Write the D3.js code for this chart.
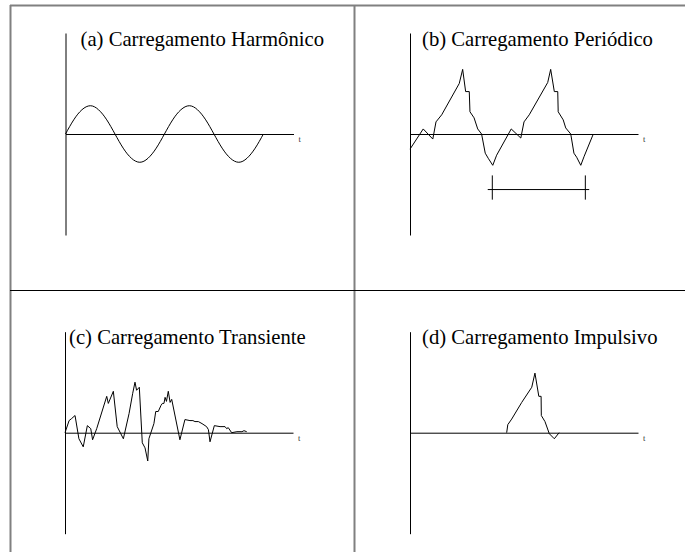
<!DOCTYPE html>
<html>
<head>
<meta charset="utf-8">
<script src="https://cdn.jsdelivr.net/npm/d3@7"></script>
<style>
    body { margin: 0; background: #fff; }
    svg { display: block; }
    .title { font-family: 'Liberation Serif', 'Times New Roman', serif; font-size: 20.7px; fill: #000; }
    .tlabel { font-family: 'Liberation Serif', 'Times New Roman', serif; font-size: 8.5px; fill: #333; }
    .curve { fill: none; stroke: #000; stroke-width: 1; }
</style>
</head>
<body>
<svg width="685" height="552"></svg>
<script>
// titles
const titles = [
    '(a) Carregamento Harmônico',
    '(b) Carregamento Periódico',
    '(c) Carregamento Transiente',
    '(d) Carregamento Impulsivo',
];

// (a) harmonic load
const harmonicT = [0, 0.36, 0.72, 1.09, 1.45, 1.81, 2.17, 2.53, 2.89, 3.26, 3.62, 3.98, 4.34,
    4.70, 5.06, 5.43, 5.79, 6.15, 6.51, 6.87, 7.23, 7.60, 7.96, 8.32, 8.68];
const harmonicY = [0, 0.14, 0.24, 0.28, 0.24, 0.14, 0, -0.14, -0.24, -0.28, -0.24, -0.14, 0,
    0.14, 0.24, 0.28, 0.24, 0.14, 0, -0.14, -0.24, -0.28, -0.24, -0.14, 0];

// (b) periodic load
const periodicT = [0, 0.58, 1.0, 1.14, 1.39, 2.16, 2.31, 2.44, 2.60, 2.63, 2.81, 2.97, 3.14, 3.30,
    3.43, 3.63, 3.80, 4.44, 4.86, 5.0, 5.23, 6.04, 6.17, 6.33, 6.48, 6.50, 6.72, 6.83, 7.05,
    7.19, 7.31, 7.49, 7.64, 8.04];
const periodicY = [-0.15, 0.05, -0.05, 0.12, 0.19, 0.50, 0.64, 0.42, 0.42, 0.22, 0.16, 0.05, 0,
    -0.19, -0.24, -0.31, -0.21, 0.05, -0.04, 0.12, 0.19, 0.51, 0.64, 0.42, 0.42, 0.22, 0.14,
    0.06, 0, -0.19, -0.23, -0.31, -0.22, 0];
// period marker (start, end, tick positions, level)
const periodBar = [3.41, 7.86];
const periodTicks = [3.61, 7.69];
const periodLevel = -0.55;

// (c) transient load
const transientT = [0, 0.18, 0.29, 0.44, 0.61, 0.80, 0.98, 1.13, 1.21, 1.39, 1.83, 1.90, 2.12,
    2.29, 2.56, 2.81, 2.97, 3.07, 3.14, 3.26, 3.39, 3.51, 3.63, 3.68, 3.90, 3.98, 4.09, 4.21,
    4.27, 4.34, 4.39, 4.45, 4.53, 4.61, 4.68, 5.04, 5.26, 5.48, 5.61, 5.70, 5.85, 6.01, 6.21,
    6.29, 6.36, 6.55, 6.80, 7.02, 7.09, 7.16, 7.31, 7.54, 7.76, 7.85, 7.97];
const transientY = [0, 0.12, 0.14, 0.17, -0.06, -0.14, 0.07, 0.04, -0.07, 0.04, 0.36, 0.29, 0.41,
    0.06, -0.06, 0.19, 0.39, 0.50, 0.42, 0.45, -0.10, -0.15, -0.28, -0.06, 0.09, 0.21, 0.21, 0.27,
    0.29, 0.29, 0.35, 0.31, 0.41, 0.30, 0.33, -0.07, 0.13, 0.12, 0.12, 0.11, 0.11, 0.09, 0.06,
    0.03, -0.09, 0.07, 0.06, 0.06, 0.04, 0.05, 0, 0.01, 0.01, 0.02, 0.01];

// (d) impulsive load
const impulseT = [4.24, 4.29, 4.46, 4.90, 5.34, 5.48, 5.65, 5.75, 5.76, 5.92, 6.11, 6.33, 6.54];
const impulseY = [0, 0.08, 0.135, 0.30, 0.45, 0.59, 0.36, 0.36, 0.17, 0.11, -0.01, -0.06, 0];

const svg = d3.select('svg');

const axisLength = 228;
const halfHeight = 101;

const xScale = d3.scaleLinear().domain([0, 10]).range([0, axisLength]);
const yScale = d3.scaleLinear().domain([-1, 1]).range([halfHeight, -halfHeight]);

const panels = [
    { ox: 65.5, oy: 134, titleX: 15, titleY: 46, t: harmonicT, y: harmonicY, smooth: true },
    { ox: 410, oy: 134, titleX: 12, titleY: 46, t: periodicT, y: periodicY },
    { ox: 65, oy: 432.7, titleX: 4, titleY: 344, t: transientT, y: transientY },
    { ox: 410, oy: 432.7, titleX: 12, titleY: 344, t: impulseT, y: impulseY },
];

// frame
const frameColor = '#808080';
svg.append('line')
    .attr('x1', 10).attr('y1', 5.5).attr('x2', 685).attr('y2', 5.5)
    .attr('stroke', frameColor).attr('stroke-width', 2);
svg.append('line')
    .attr('x1', 10.5).attr('y1', 5).attr('x2', 10.5).attr('y2', 552)
    .attr('stroke', frameColor).attr('stroke-width', 2);
svg.append('line')
    .attr('x1', 354.5).attr('y1', 5).attr('x2', 354.5).attr('y2', 552)
    .attr('stroke', frameColor).attr('stroke-width', 2);
svg.append('line')
    .attr('x1', 10).attr('y1', 290.5).attr('x2', 685).attr('y2', 290.5)
    .attr('stroke', '#000').attr('stroke-width', 1);

panels.forEach((p, i) => {
    const g = svg.append('g')
        .attr('transform', `translate(${p.ox}, ${p.oy})`);

    g.append('g')
        .attr('color', '#000')
        .call(d3.axisBottom(xScale).tickValues([]).tickSizeOuter(0));

    g.append('g')
        .attr('color', '#000')
        .call(d3.axisLeft(yScale).tickValues([]).tickSizeOuter(0));

    g.append('text')
        .attr('class', 'tlabel')
        .attr('x', xScale(10) + 5)
        .attr('y', 8)
        .text('t');

    svg.append('text')
        .attr('class', 'title')
        .attr('x', p.ox + p.titleX)
        .attr('y', p.titleY)
        .text(titles[i]);

    const pts = p.t.map((t, k) => [t, p.y[k]]);
    const line = d3.line()
        .x((d) => xScale(d[0]))
        .y((d) => yScale(d[1]));
    if (p.smooth) line.curve(d3.curveNatural);

    g.append('path')
        .datum(pts)
        .attr('class', 'curve')
        .attr('d', line);

    if (i === 1) {
        g.append('line')
            .attr('x1', xScale(periodBar[0]))
            .attr('x2', xScale(periodBar[1]))
            .attr('y1', yScale(periodLevel))
            .attr('y2', yScale(periodLevel))
            .attr('stroke', '#000');
        g.selectAll('.ptick')
            .data(periodTicks)
            .enter()
            .append('line')
            .attr('class', 'ptick')
            .attr('x1', (d) => xScale(d))
            .attr('x2', (d) => xScale(d))
            .attr('y1', yScale(periodLevel + 0.14))
            .attr('y2', yScale(periodLevel - 0.1))
            .attr('stroke', '#000');
    }
});
</script>
</body>
</html>
